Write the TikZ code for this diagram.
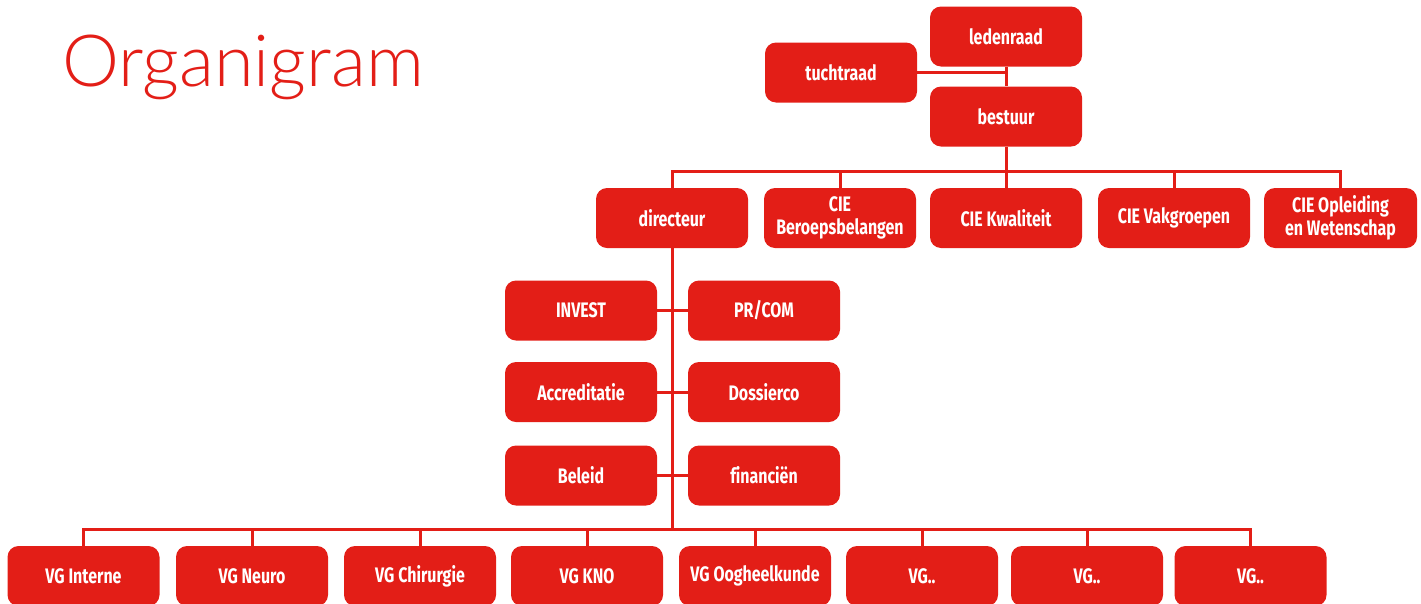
\documentclass[tikz,border=0pt]{standalone}
\usepackage{fontspec}
\newfontfamily\boxfont{Fira Sans}[FakeStretch=0.76, Ligatures=NoCommon]
\newfontfamily\titlefont{Lato Light}
\definecolor{orgred}{RGB}{227,30,23}
\begin{document}
\begin{tikzpicture}[x=1pt,y=-1pt,
  box/.style={fill=orgred, rounded corners=11pt, minimum width=152pt, minimum height=60pt,
    text=white, font=\boxfont\bfseries\fontsize{21}{23}\selectfont, align=center, inner sep=0pt},
  link/.style={draw=orgred, line width=3pt}]
\useasboundingbox (0,0) rectangle (1421,603);
\node[anchor=base west, text=orgred, font=\titlefont\fontsize{72}{72}\selectfont, inner sep=0pt] (title) at (62,86) {Organigram};
% top
\node[box] (ledenraad) at (1006,36.5) {ledenraad};
\node[box] (tuchtraad) at (841,72.5) {tuchtraad};
\node[box] (bestuur) at (1006,116.5) {bestuur};
% row 2
\node[box] (directeur) at (672,218) {directeur};
\node[box] (beroeps) at (840,218) {CIE\\Beroepsbelangen};
\node[box] (kwaliteit) at (1006,218) {CIE Kwaliteit};
\node[box] (vakgroepen) at (1174,218) {CIE Vakgroepen};
\node[box, minimum width=153pt] (opleiding) at (1340.5,218) {CIE Opleiding\\en Wetenschap};
% staff
\node[box] (invest) at (581,310.5) {INVEST};
\node[box] (prcom) at (764,310.5) {PR/COM};
\node[box] (accred) at (581,392) {Accreditatie};
\node[box] (dossier) at (764,392) {Dossierco};
\node[box] (beleid) at (581,475.5) {Beleid};
\node[box] (financien) at (764,475.5) {financiën};
% bottom row
\node[box] (vg1) at (83.5,576) {VG Interne};
\node[box] (vg2) at (252,576) {VG Neuro};
\node[box] (vg3) at (420,576) {VG Chirurgie};
\node[box] (vg4) at (587,576) {VG KNO};
\node[box] (vg5) at (755,576) {VG Oogheelkunde};
\node[box] (vg6) at (922,576) {VG..};
\node[box] (vg7) at (1087,576) {VG..};
\node[box] (vg8) at (1250.5,576) {VG..};
% connectors
\draw[link] (ledenraad.south) -- (bestuur.north);
\draw[link] (tuchtraad.east) -- (tuchtraad.east -| bestuur.north);
\draw[link] (bestuur.south) -- (kwaliteit.north);
\draw[link] (directeur.north) -- ++(0,-16) -| (opleiding.north);
\draw[link] (beroeps.north) -- ++(0,-16);
\draw[link] (vakgroepen.north) -- ++(0,-16);
\coordinate (vgbus) at ([yshift=16pt]vg1.north);
\draw[link] (directeur.south) -- (directeur.south |- vgbus);
\draw[link] (invest.east) -- (prcom.west);
\draw[link] (accred.east) -- (dossier.west);
\draw[link] (beleid.east) -- (financien.west);
\draw[link] (vg1.north) -- (vgbus) -| (vg8.north);
\foreach \v in {vg2,vg3,vg4,vg5,vg6,vg7}{\draw[link] (\v.north) -- ++(0,-16);}
\end{tikzpicture}
\end{document}
